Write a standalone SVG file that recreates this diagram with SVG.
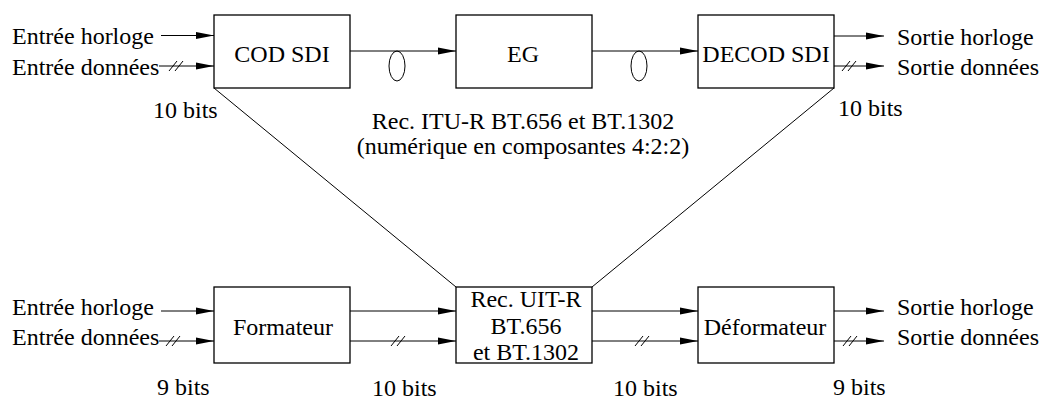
<svg xmlns="http://www.w3.org/2000/svg" width="1040" height="401" viewBox="0 0 1040 401">
<defs>
<marker id="ah" markerWidth="18" markerHeight="8" refX="18" refY="4" orient="auto" markerUnits="userSpaceOnUse">
<path d="M0,0.5 L18,4 L0,7.5 z" fill="#000"/>
</marker>
<style>
.box{fill:#fff;stroke:#000;stroke-width:1.3}
.ln{fill:none;stroke:#000;stroke-width:1}
.ar{fill:none;stroke:#000;stroke-width:1;marker-end:url(#ah)}
</style>
</defs>
<rect width="1040" height="401" fill="#fff"/>
<g id="connectors">
<line class="ar" x1="161" y1="35.5" x2="214" y2="35.5"/>
<line class="ar" x1="159" y1="66" x2="214" y2="66"/>
<path class="ln" d="M169,71 L177,61 M175,71 L183,61"/>
<line class="ar" x1="350" y1="51" x2="456" y2="51"/>
<ellipse class="ln" cx="397" cy="66" rx="8" ry="15"/>
<line class="ar" x1="592" y1="51" x2="698" y2="51"/>
<ellipse class="ln" cx="639" cy="66" rx="8" ry="15"/>
<line class="ar" x1="834" y1="36" x2="884" y2="36"/>
<line class="ar" x1="834" y1="66" x2="884" y2="66"/>
<path class="ln" d="M842,71 L850,61 M848,71 L856,61"/>
<line class="ln" x1="214" y1="88" x2="456" y2="287"/>
<line class="ln" x1="834" y1="88" x2="592" y2="287"/>
<line class="ar" x1="161" y1="311" x2="214" y2="311"/>
<line class="ar" x1="159" y1="341" x2="214" y2="341"/>
<path class="ln" d="M166,346 L174,336 M172,346 L180,336"/>
<line class="ar" x1="350" y1="311" x2="456" y2="311"/>
<line class="ar" x1="350" y1="341" x2="456" y2="341"/>
<path class="ln" d="M391,346 L399,336 M397,346 L405,336"/>
<line class="ar" x1="592" y1="311" x2="698" y2="311"/>
<line class="ar" x1="592" y1="341" x2="698" y2="341"/>
<path class="ln" d="M635,346 L643,336 M641,346 L649,336"/>
<line class="ar" x1="834" y1="311" x2="884" y2="311"/>
<line class="ar" x1="834" y1="341" x2="884" y2="341"/>
<path class="ln" d="M843,346 L851,336 M849,346 L857,336"/>
</g>
<g id="cod-sdi">
<rect class="box" x="214" y="15" width="136" height="73"/>
<text x="282" y="62" font-family="Liberation Serif" font-size="24" text-anchor="middle">COD SDI</text>
</g>
<g id="eg">
<rect class="box" x="456" y="15" width="136" height="73"/>
<text x="523" y="62" font-family="Liberation Serif" font-size="24" text-anchor="middle">EG</text>
</g>
<g id="decod-sdi">
<rect class="box" x="698" y="15" width="136" height="73"/>
<text x="766" y="62" font-family="Liberation Serif" font-size="24" text-anchor="middle">DECOD SDI</text>
</g>
<g id="formateur">
<rect class="box" x="214" y="287" width="136" height="76"/>
<text x="283" y="335" font-family="Liberation Serif" font-size="24" text-anchor="middle">Formateur</text>
</g>
<g id="rec-uit">
<rect class="box" x="456" y="287" width="136" height="76"/>
<text x="526" y="307" font-family="Liberation Serif" font-size="24" text-anchor="middle">Rec. UIT-R</text>
<text x="526" y="334" font-family="Liberation Serif" font-size="24" text-anchor="middle">BT.656</text>
<text x="526" y="360" font-family="Liberation Serif" font-size="24" text-anchor="middle">et BT.1302</text>
</g>
<g id="deformateur">
<rect class="box" x="698" y="287" width="136" height="76"/>
<text x="765" y="335" font-family="Liberation Serif" font-size="24" text-anchor="middle">Déformateur</text>
</g>
<g id="labels">
<text x="12" y="44" font-family="Liberation Serif" font-size="24">Entrée horloge</text>
<text x="12" y="75" font-family="Liberation Serif" font-size="24">Entrée données</text>
<text x="897" y="45" font-family="Liberation Serif" font-size="24">Sortie horloge</text>
<text x="897" y="75" font-family="Liberation Serif" font-size="24">Sortie données</text>
<text x="153" y="118" font-family="Liberation Serif" font-size="24">10 bits</text>
<text x="838" y="116" font-family="Liberation Serif" font-size="24">10 bits</text>
<text x="523" y="129" font-family="Liberation Serif" font-size="24" text-anchor="middle">Rec. ITU-R BT.656 et BT.1302</text>
<text x="523" y="154" font-family="Liberation Serif" font-size="24" text-anchor="middle">(numérique en composantes 4:2:2)</text>
<text x="12" y="315" font-family="Liberation Serif" font-size="24">Entrée horloge</text>
<text x="12" y="345" font-family="Liberation Serif" font-size="24">Entrée données</text>
<text x="897" y="315" font-family="Liberation Serif" font-size="24">Sortie horloge</text>
<text x="897" y="345" font-family="Liberation Serif" font-size="24">Sortie données</text>
<text x="157" y="395" font-family="Liberation Serif" font-size="24">9 bits</text>
<text x="372" y="396" font-family="Liberation Serif" font-size="24">10 bits</text>
<text x="613" y="396" font-family="Liberation Serif" font-size="24">10 bits</text>
<text x="833" y="395" font-family="Liberation Serif" font-size="24">9 bits</text>
</g>
</svg>
